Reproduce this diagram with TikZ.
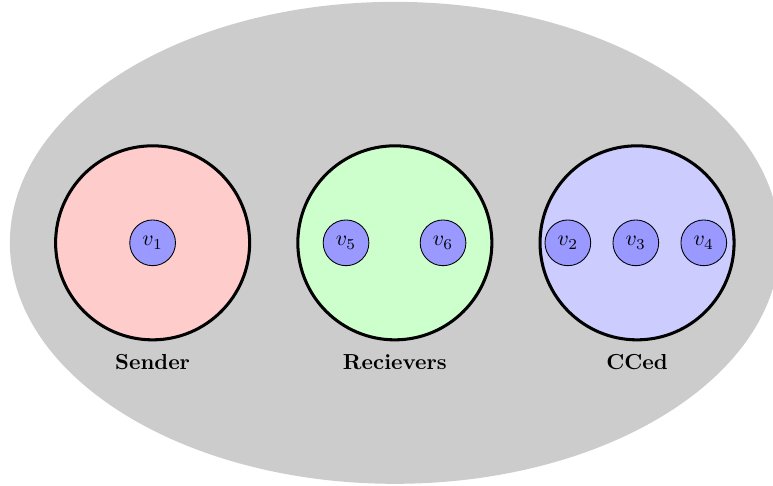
\documentclass[tikz,border=0pt]{standalone}
\usetikzlibrary{positioning}

\tikzset{
  group/.style={circle, line width=1.4pt, draw=black, minimum size=3.14cm},
  vertex/.style={circle, draw=black, fill=blue!40, minimum size=0.74cm, inner sep=0pt},
  grouplabel/.style={font=\bfseries}
}

\begin{document}
\begin{tikzpicture}

\useasboundingbox (-6.39,-3.93) rectangle (6.12,3.93);

% Background set
\fill[gray!40] (0,0) ellipse (6.23cm and 3.9cm);

% Groups
\node[group, fill=red!20] (sender) at (-3.92,0) {};
\node[group, fill=green!20] (receivers) at (0,0) {};
\node[group, fill=blue!20] (cced) at (3.92,0) {};

% Vertices
\node[vertex] (v1) at (-3.92,0) {$v_1$};
\node[vertex] (v5) at (-0.79,0) {$v_5$};
\node[vertex] (v6) at (0.78,0) {$v_6$};
\node[vertex] (v2) at (2.8,0) {$v_2$};
\node[vertex] (v3) at (3.9,0) {$v_3$};
\node[vertex] (v4) at (5.0,0) {$v_4$};

% Labels
\node[grouplabel] (senderlabel) at (-3.92,-1.93) {Sender};
\node[grouplabel] (receiverslabel) at (0,-1.93) {Recievers};
\node[grouplabel] (ccedlabel) at (3.92,-1.93) {CCed};

\end{tikzpicture}
\end{document}
